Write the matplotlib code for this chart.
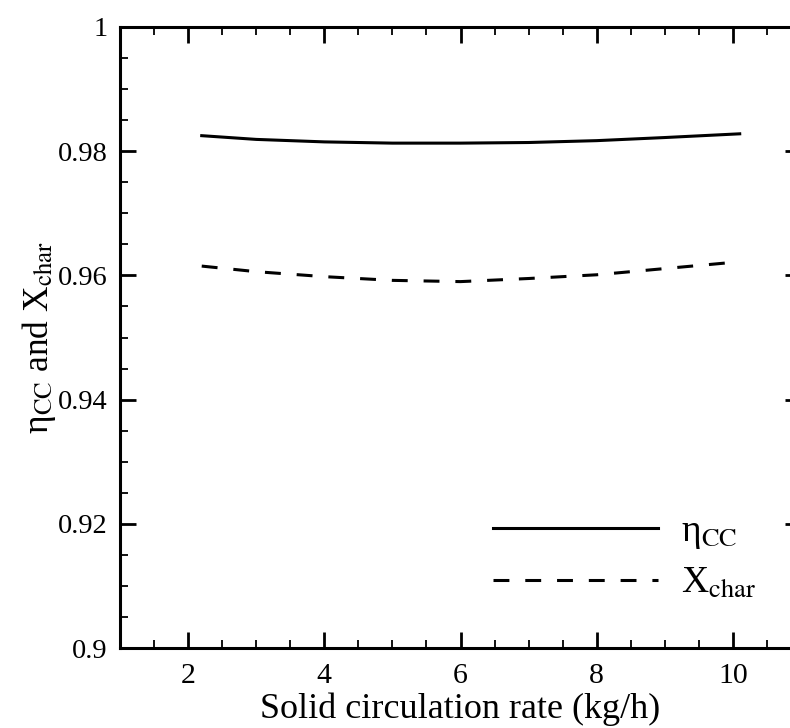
import matplotlib
matplotlib.use("Agg")
import matplotlib.pyplot as plt
from matplotlib.ticker import MultipleLocator, FuncFormatter

# solid circulation rate (kg/h)
rate = [2.2, 3, 4, 5, 6, 7, 8, 9, 10.1]
# carbon capture efficiency and char conversion
eta_cc = [0.9825, 0.9819, 0.9815, 0.9813, 0.9813, 0.9814, 0.9817, 0.9822, 0.9828]
x_char = [0.9615, 0.9606, 0.9598, 0.9592, 0.9590, 0.9595, 0.9601, 0.9611, 0.9622]

plt.rcParams["font.family"] = ["Liberation Serif", "DejaVu Serif"]
plt.rcParams["mathtext.fontset"] = "stix"

fig = plt.figure(figsize=(7.9, 7.28), dpi=100)
# right edge of the axes sits just past the figure, as in the cropped original
ax = fig.add_axes([120 / 790, 1 - 648 / 728, 681 / 790, 621 / 728])

ax.plot(rate, eta_cc, color="black", lw=2.2, label=r"η$_\mathrm{CC}$")
ax.plot(rate, x_char, color="black", lw=2.2, dashes=(5.2, 5.2), label=r"X$_\mathrm{char}$")

ax.set_xlim(1, 11)
ax.set_ylim(0.9, 1.0)
ax.xaxis.set_major_locator(MultipleLocator(2))
ax.xaxis.set_minor_locator(MultipleLocator(0.5))
ax.yaxis.set_major_locator(MultipleLocator(0.02))
ax.yaxis.set_minor_locator(MultipleLocator(0.005))
ax.yaxis.set_major_formatter(FuncFormatter(lambda v, p: f"{v:g}"))
ax.xaxis.set_major_formatter(FuncFormatter(lambda v, p: f"{v:g}"))

for s in ax.spines.values():
    s.set_linewidth(2.2)
ax.tick_params(which="both", direction="in", top=True, right=True, labelsize=20.5)
ax.tick_params(which="major", length=11.5, width=2.0, pad=9)
ax.tick_params(which="minor", length=6, width=1.3)
ax.tick_params(axis="x", which="major", labelsize=21.5, pad=11)

ax.set_xlabel("Solid circulation rate (kg/h)", fontsize=26, labelpad=2.5)
ax.set_ylabel(r"η$_\mathrm{CC}$ and X$_\mathrm{char}$", fontsize=25.5, labelpad=0)

ax.legend(loc="upper left", bbox_to_anchor=(0.548, 0.215), frameon=False, fontsize=27,
          handlelength=4.4, handletextpad=0.6, labelspacing=0.42,
          borderpad=0, borderaxespad=0)

fig.savefig("out.png", dpi=100)
